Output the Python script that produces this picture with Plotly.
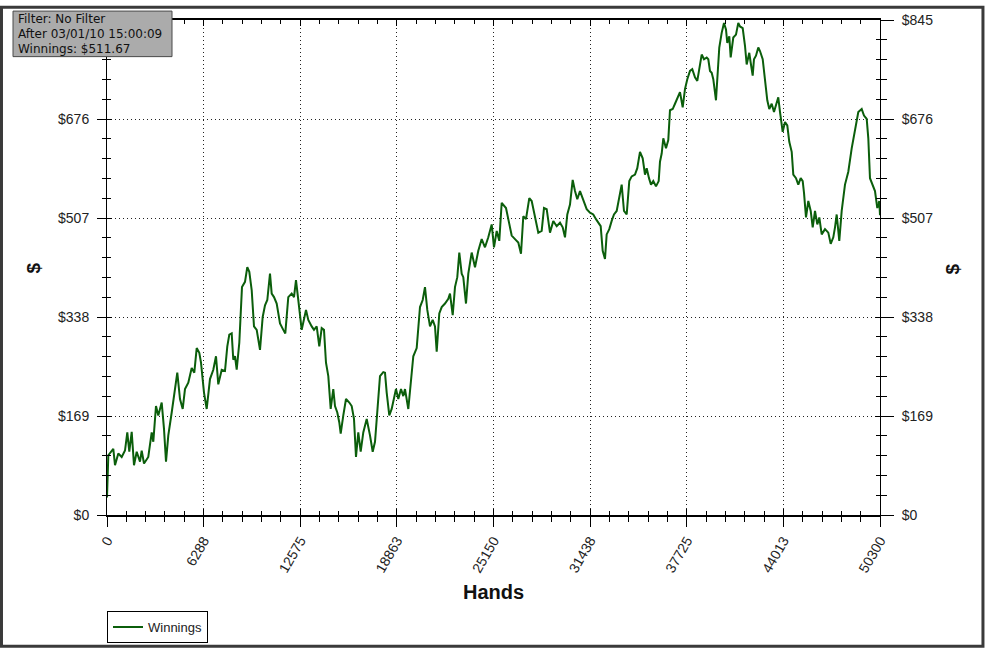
import plotly.graph_objects as go

hands = [0,20,85,410,521,735,957,1171,1321,1451,1607,1757,1933,2147,2258,2408,2687,2909,3013,3188,3338,3559,3709,3839,3989,4210,4360,4574,4750,4926,5075,5290,5511,5681,5837,6006,6117,6312,6487,6702,6917,7093,7242,7464,7678,7828,7958,8114,8218,8329,8440,8609,8784,8980,9129,9260,9415,9565,9741,9956,10131,10281,10431,10606,10717,10867,11042,11257,11472,11602,11797,12018,12168,12298,12448,12669,12949,13099,13320,13469,13645,13814,13970,14120,14250,14400,14556,14725,14836,14986,15116,15207,15376,15552,15766,15922,16072,16202,16352,16508,16677,16899,17113,17289,17439,17588,17764,17979,18089,18200,18369,18525,18675,18805,18955,19131,19280,19391,19606,19762,19931,20152,20367,20543,20692,20842,21018,21193,21343,21454,21623,21779,21994,22209,22319,22495,22644,22794,22924,23080,23184,23360,23510,23731,23946,24161,24382,24596,24811,25032,25182,25358,25527,25683,25833,25963,26113,26334,26549,26764,26939,27089,27264,27479,27635,27850,28065,28286,28436,28612,28826,29041,29262,29477,29652,29802,29952,30127,30303,30453,30602,30778,30993,31214,31429,31643,31819,31969,32125,32255,32405,32515,32684,32840,32990,33166,33335,33491,33641,33817,33986,34142,34357,34506,34682,34858,35008,35118,35268,35398,35548,35723,35899,35984,36094,36199,36374,36524,36634,36810,36960,37109,37285,37461,37610,37760,37936,38085,38261,38411,38541,38697,38847,39022,39127,39238,39348,39452,39627,39712,39842,39998,40148,40278,40363,40493,40584,40753,40929,41079,41189,41365,41515,41625,41794,41886,42016,42100,42230,42380,42491,42667,42817,42966,43096,43252,43402,43532,43681,43792,43968,44118,44267,44397,44554,44658,44834,44984,45140,45270,45355,45485,45635,45791,45921,46071,46220,46350,46506,46721,46936,47092,47261,47372,47482,47651,47807,48022,48237,48458,48673,48888,49109,49259,49435,49539,49648,49824,49974,50124,50254,50300]

winnings = [30,68,102,113,85,105,99,110,141,108,142,85,108,91,110,88,99,141,125,186,170,192,147,91,136,175,203,243,198,181,215,226,251,243,285,277,260,209,181,232,248,271,223,248,246,288,308,310,265,271,248,294,389,398,423,415,384,322,316,282,338,358,367,412,378,372,361,327,316,310,372,378,372,401,367,316,350,333,322,316,322,288,319,316,260,237,181,215,186,175,158,139,170,198,192,186,164,99,141,108,141,164,136,108,125,181,237,244,243,209,170,181,203,215,198,215,203,215,181,220,271,285,355,367,389,350,322,333,322,279,344,355,361,369,378,341,389,406,448,412,406,361,412,448,423,451,471,457,474,496,457,485,468,533,527,524,505,477,471,465,446,510,505,541,536,508,482,485,524,522,482,502,493,499,491,474,513,530,572,553,539,553,536,522,516,513,505,499,493,451,437,479,488,502,513,519,541,564,519,513,570,578,581,592,620,609,581,592,575,564,570,561,570,603,617,643,626,640,691,693,702,710,722,696,727,744,758,761,747,741,761,786,778,781,778,758,755,744,708,744,798,823,840,829,806,817,781,815,820,840,834,831,801,769,789,772,750,778,784,798,792,778,747,708,693,702,688,699,713,688,654,671,665,637,620,581,575,564,575,570,550,508,536,519,491,519,496,508,479,488,482,463,474,491,513,468,519,564,586,626,660,688,693,682,676,643,575,564,553,524,536,511.67]

assert len(hands) == len(winnings)

x_tick_vals = [0, 6287.5, 12575, 18862.5, 25150, 31437.5, 37725, 44012.5, 50300]
x_tick_text = ["0", "6288", "12575", "18863", "25150", "31438", "37725", "44013", "50300"]
y_tick_vals = [0, 169, 338, 507, 676, 845]
y_tick_text = ["$0", "$169", "$338", "$507", "$676", "$845"]
# top-left label is hidden under the info box in the original
y_tick_text_left = ["$0", "$169", "$338", "$507", "$676", ""]

info_lines = ["Filter: No Filter", "After 03/01/10 15:00:09", "Winnings: $511.67"]

tick_font = dict(family="Liberation Sans, Arial, sans-serif", size=14, color="#222")

fig = go.Figure()
fig.add_trace(go.Scatter(x=hands, y=winnings, mode="lines", name="Winnings",
                         line=dict(color="#0b5e0b", width=2), hoverinfo="skip"))
fig.add_trace(go.Scatter(x=[None], y=[None], xaxis="x2", yaxis="y3", showlegend=False, hoverinfo="skip"))
fig.add_trace(go.Scatter(x=[None], y=[None], xaxis="x", yaxis="y2", showlegend=False, hoverinfo="skip"))

grid = dict(showgrid=True, gridcolor="#222", gridwidth=1, griddash="1px,3px")

info_y = [1.002, 0.972, 0.942]
annotations = [
    dict(text=t, xref="paper", yref="paper", x=-0.1177, y=yy, xanchor="left", yanchor="middle",
         showarrow=False, font=dict(family="DejaVu Sans, Verdana, sans-serif", size=12, color="#111"))
    for t, yy in zip(info_lines, info_y)
]
annotations += [
    dict(text="<b>Hands</b>", xref="paper", yref="paper", x=0.4994, y=-0.156,
         xanchor="center", yanchor="middle", showarrow=False,
         font=dict(family="Liberation Sans, Arial, sans-serif", size=20, color="#111")),
    dict(text="<b>$</b>", xref="paper", yref="paper", x=-0.0957, y=0.498,
         xanchor="center", yanchor="middle", showarrow=False, textangle=-90,
         font=dict(family="Liberation Sans, Arial, sans-serif", size=19, color="#111")),
    dict(text="<b>$</b>", xref="paper", yref="paper", x=1.0944, y=0.498,
         xanchor="center", yanchor="middle", showarrow=False, textangle=-90,
         font=dict(family="Liberation Sans, Arial, sans-serif", size=19, color="#111")),
]

fig.update_layout(
    width=985, height=655,
    margin=dict(l=107, r=105, t=14, b=135),
    paper_bgcolor="white", plot_bgcolor="white",
    showlegend=True,
    legend=dict(x=0, y=-0.194, xanchor="left", yanchor="top",
                bordercolor="black", borderwidth=1, bgcolor="white",
                font=dict(family="Liberation Sans, Arial, sans-serif", size=13, color="#222"),
                itemwidth=30),
    xaxis=dict(range=[0, 50300], tickvals=x_tick_vals, ticktext=x_tick_text, tickangle=-60,
               ticks="outside", ticklen=10, tickcolor="black", tickwidth=1,
               minor=dict(dtick=1257.5, tick0=0, ticks="outside", ticklen=5, tickcolor="black", showgrid=False),
               showline=True, linecolor="black", linewidth=2, mirror=True,
               tickfont=tick_font, zeroline=False, **grid),
    xaxis2=dict(range=[0, 50300], overlaying="x", anchor="y", side="bottom",
                tickvals=x_tick_vals, showticklabels=False,
                ticks="inside", ticklen=6, tickcolor="black",
                minor=dict(dtick=1257.5, tick0=0, ticks="inside", ticklen=4, tickcolor="black", showgrid=False),
                showline=False, mirror="ticks", showgrid=False, zeroline=False),
    yaxis=dict(range=[0, 845], tickvals=y_tick_vals, ticktext=y_tick_text_left,
               ticks="outside", ticklen=9, tickcolor="black", ticklabelstandoff=5,
               minor=dict(dtick=33.8, tick0=0, ticks="outside", ticklen=4, tickcolor="black", showgrid=False),
               showline=True, linecolor="black", linewidth=1, mirror=True,
               tickfont=tick_font, zeroline=False, **grid),
    yaxis2=dict(range=[0, 845], overlaying="y", side="right", anchor="x",
                tickvals=y_tick_vals, ticktext=y_tick_text,
                ticks="outside", ticklen=13, tickcolor="black", ticklabelstandoff=5,
                minor=dict(dtick=33.8, tick0=0, ticks="outside", ticklen=6, tickcolor="black", showgrid=False),
                showline=True, linecolor="black", linewidth=1,
                tickfont=tick_font, showgrid=False, zeroline=False),
    yaxis3=dict(range=[0, 845], overlaying="y", side="left", anchor="x2",
                tickvals=y_tick_vals, showticklabels=False,
                ticks="inside", ticklen=5, tickcolor="black",
                minor=dict(dtick=33.8, tick0=0, ticks="inside", ticklen=4, tickcolor="black", showgrid=False),
                showline=False, mirror="ticks", showgrid=False, zeroline=False),
    shapes=[
        dict(type="rect", xref="paper", yref="paper",
             x0=-0.1365, x1=1.1332, y0=-0.265, y1=1.026,
             line=dict(color="#3a3a3a", width=3), fillcolor="rgba(0,0,0,0)", layer="above"),
        dict(type="rect", xref="paper", yref="paper",
             x0=-0.1216, x1=0.0841, y0=0.926, y1=1.018,
             line=dict(color="#4a4a4a", width=1), fillcolor="#ababab", layer="above"),
    ],
    annotations=annotations,
)

fig.write_html("out.html",
               config={"displayModeBar": False},
               post_script="document.body.style.margin='0';document.body.style.overflow='hidden';")
